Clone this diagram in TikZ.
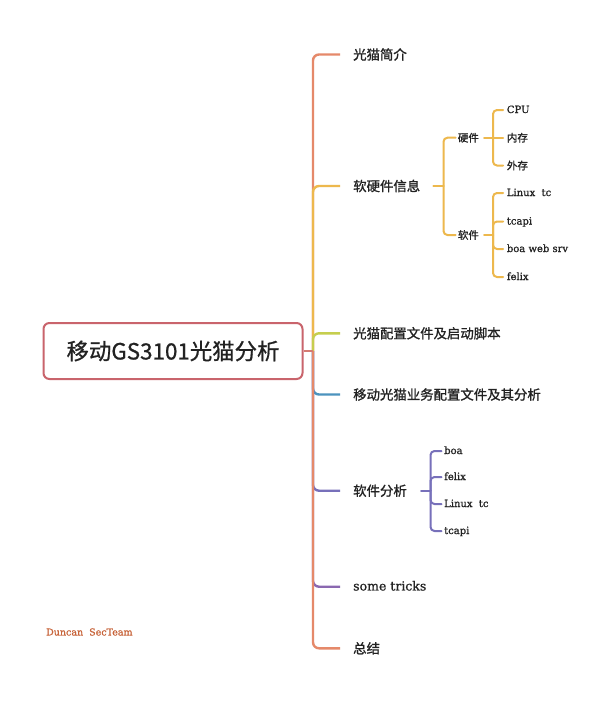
\documentclass[tikz,border=0pt]{standalone}
\usepackage{fontspec}
\setmainfont{DejaVu Serif}[FakeBold=0.9]
\newfontfamily\cjk{Noto Sans CJK SC}[FakeBold=1.2]
\newfontfamily\cjkroot{Noto Sans CJK SC}[FakeBold=0.8]
\definecolor{cOr}{HTML}{E5896A}
\definecolor{cYe}{HTML}{EDB84D}
\definecolor{cYg}{HTML}{C6CE4E}
\definecolor{cBl}{HTML}{4C93BE}
\definecolor{cPu}{HTML}{7770BA}
\definecolor{cPv}{HTML}{8A68B0}
\definecolor{cRoot}{HTML}{C9646C}
\definecolor{cRootLn}{HTML}{D47A72}
\definecolor{cSig}{HTML}{C8643A}
\definecolor{cTxt}{HTML}{222222}
\begin{document}
\begin{tikzpicture}[x=1pt,y=-1pt,
  rootbox/.style={draw=cRoot,line width=2pt,rounded corners=6pt,fill=white,
    minimum width=259pt,minimum height=56pt,inner sep=0pt,
    font=\cjkroot\fontsize{22.4}{26}\selectfont,text=cTxt},
  bcjk/.style={anchor=west,inner sep=0pt,text=cTxt,
    font=\cjk\fontsize{13.4}{15}\selectfont,text height=10.7pt,text depth=0.5pt},
  blat/.style={anchor=west,inner sep=0pt,text=cTxt,
    font=\fontsize{12.5}{15}\selectfont,text height=7.7pt,text depth=0.2pt},
  scjk/.style={anchor=west,inner sep=0pt,text=cTxt,
    font=\cjk\fontsize{10.5}{12}\selectfont,text height=8.4pt,text depth=0.4pt},
  slat/.style={anchor=west,inner sep=0pt,text=cTxt,
    font=\fontsize{10}{12}\selectfont,text height=6.2pt,text depth=0.2pt},
  br/.style={line width=2.4pt,rounded corners=6pt},
  sub/.style={line width=2pt,rounded corners=4pt,line cap=round}
]
\useasboundingbox (0,0) rectangle (609,702);
\fill[white] (0,0) rectangle (609,702);

% root
\node[rootbox] (root) at (173,351) {移动GS3101光猫分析};
\coordinate (spine) at (313,351);

% main branches
\node[bcjk] (b1) at (353,54.5) {光猫简介};
\node[bcjk] (b2) at (353,186) {软硬件信息};
\node[bcjk] (b3) at (353,333.3) {光猫配置文件及启动脚本};
\node[bcjk] (b4) at (353,394.5) {移动光猫业务配置文件及其分析};
\node[bcjk] (b5) at (353,490.7) {软件分析};
\node[blat] (b6) at (353,586.7) {some tricks};
\node[bcjk] (b7) at (353,648.3) {总结};

\draw[br,cOr] (spine) |- ([xshift=-13pt]b1.west);
\draw[br,cYe] (spine) |- ([xshift=-13pt]b2.west);
\draw[br,cYg] (spine) |- ([xshift=-13pt]b3.west);
\draw[br,cBl] (spine) |- ([xshift=-13pt]b4.west);
\draw[br,cPu] (spine) |- ([xshift=-13pt]b5.west);
\draw[br,cPv] (spine) |- ([xshift=-13pt]b6.west);
\draw[br,cOr] (spine) |- ([xshift=-13pt]b7.west);
\draw[line width=2pt,cRootLn] (root.east) -- (spine);

% 软硬件信息
\node[scjk] (hw) at (457.7,137.7) {硬件};
\node[scjk] (sw) at (457.7,235) {软件};
\coordinate (k2) at (443.5,186);
\draw[sub,cYe] ([xshift=13pt]b2.east) -- (k2);
\draw[sub,cYe] (k2) |- ([xshift=-2pt]hw.west);
\draw[sub,cYe] (k2) |- ([xshift=-2pt]sw.west);

% 硬件
\node[slat] (cpu) at (506.7,110) {CPU};
\node[scjk] (nc) at (506.7,137.7) {内存};
\node[scjk] (wc) at (506.7,165.5) {外存};
\coordinate (kh) at (493,137.7);
\draw[sub,cYe] ([xshift=5pt]hw.east) -- (kh);
\draw[sub,cYe] (kh) |- ([xshift=-3.5pt]cpu.west);
\draw[sub,cYe] (kh) -- ([xshift=-3.5pt]nc.west);
\draw[sub,cYe] (kh) |- ([xshift=-3.5pt]wc.west);

% 软件
\node[slat] (lx) at (506.7,193) {Linux~~tc};
\node[slat] (tc) at (506.7,221.5) {tcapi};
\node[slat] (boa) at (506.7,249) {boa web srv};
\node[slat] (fx) at (506.7,277) {felix};
\coordinate (ks) at (493,235);
\draw[sub,cYe] ([xshift=5pt]sw.east) -- (ks);
\draw[sub,cYe] (ks) |- ([xshift=-3.5pt]lx.west);
\draw[sub,cYe] (ks) |- ([xshift=-3.5pt]tc.west);
\draw[sub,cYe] (ks) |- ([xshift=-3.5pt]boa.west);
\draw[sub,cYe] (ks) |- ([xshift=-3.5pt]fx.west);

% 软件分析
\node[slat] (sa1) at (444,451) {boa};
\node[slat] (sa2) at (444,477) {felix};
\node[slat] (sa3) at (444,504) {Linux~~tc};
\node[slat] (sa4) at (444,531) {tcapi};
\coordinate (k5) at (430.5,490.7);
\draw[sub,cPu] ([xshift=14pt]b5.east) -- (k5);
\draw[sub,cPu] (k5) |- ([xshift=-2.5pt]sa1.west);
\draw[sub,cPu] (k5) |- ([xshift=-2.5pt]sa2.west);
\draw[sub,cPu] (k5) |- ([xshift=-2.5pt]sa3.west);
\draw[sub,cPu] (k5) |- ([xshift=-2.5pt]sa4.west);

% signature
\node[anchor=west,inner sep=0pt,text=cSig,font=\fontsize{9.5}{11}\selectfont]
  (sig) at (46,632) {Duncan~~SecTeam};
\end{tikzpicture}
\end{document}
